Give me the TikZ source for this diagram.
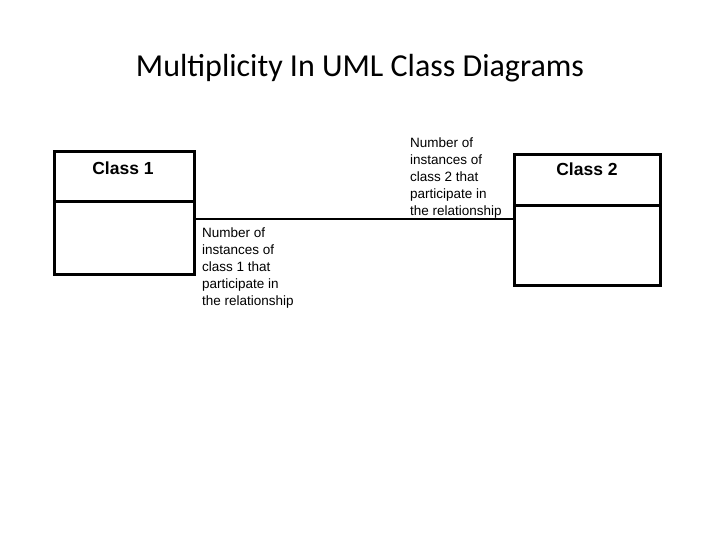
\documentclass[tikz,border=0pt]{standalone}
\usepackage{fontspec}
\setmainfont{Liberation Sans}
\newfontfamily\titlefont{Carlito}
\usetikzlibrary{positioning}

\begin{document}
\begin{tikzpicture}[
    x=1pt, y=-1pt,
    box/.style={draw=black, line width=3pt},
    note/.style={align=left, font=\fontsize{13.5}{17}\selectfont, inner sep=0pt, anchor=north west},
    classname/.style={font=\fontsize{17.5}{20}\selectfont\bfseries}
]
   \useasboundingbox (0,0) rectangle (720,540);

   % Title
   \node[font=\titlefont\fontsize{32}{38}\selectfont] (title) at (360,68) {Multiplicity In UML Class Diagrams};

   % Classes
   \draw[box] (54,152) rectangle (194,274);
   \draw[box] (54,202) -- (194,202);
   \node[classname] (c1) at (123,168) {Class 1};
   \coordinate (c1e) at (194,219);

   \draw[box] (514,155) rectangle (660,285);
   \draw[box] (514,206) -- (660,206);
   \node[classname] (c2) at (587,169) {Class 2};
   \coordinate (c2w) at (514,219);

   % Association
   \draw[line width=2.5pt] (c1e) -- (c2w);

   % Multiplicity notes
   \node[note] (m2) at (410,138) {Number of\\instances of\\class 2 that\\participate in\\the relationship};
   \node[note] (m1) at (202,228) {Number of\\instances of\\class 1 that\\participate in\\the relationship};
\end{tikzpicture}
\end{document}
